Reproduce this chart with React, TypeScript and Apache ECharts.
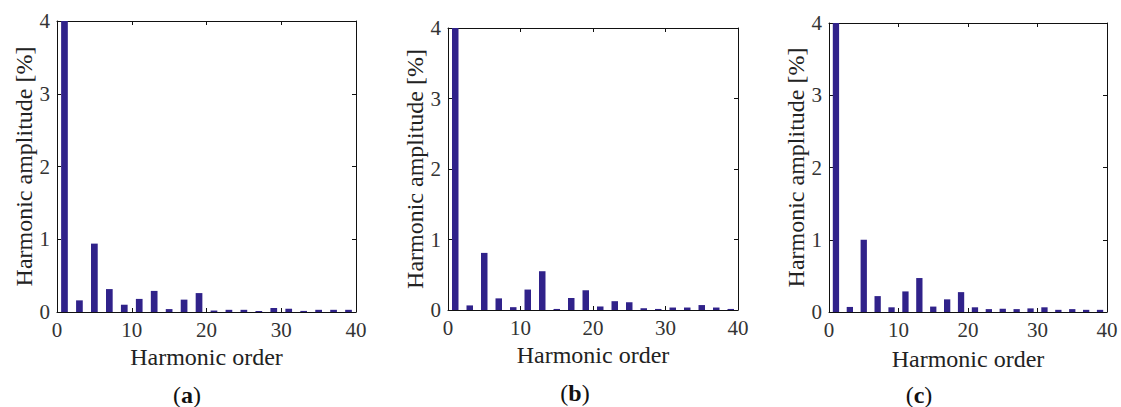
import React, { useEffect, useRef } from "react";
import * as echarts from "echarts";

const harmonics = [1, 3, 5, 7, 9, 11, 13, 15, 17, 19, 21, 23, 25, 27, 29, 31, 33, 35, 37, 39];
const ampA = [4, 0.16, 0.94, 0.315, 0.1, 0.18, 0.29, 0.04, 0.17, 0.26, 0.02, 0.03, 0.03, 0.015, 0.055, 0.045, 0.015, 0.03, 0.03, 0.03];
const ampB = [4, 0.065, 0.81, 0.165, 0.04, 0.29, 0.55, 0.015, 0.17, 0.28, 0.05, 0.125, 0.11, 0.025, 0.015, 0.035, 0.035, 0.07, 0.035, 0.015];
const ampC = [4, 0.07, 1.0, 0.22, 0.065, 0.285, 0.47, 0.075, 0.175, 0.275, 0.065, 0.04, 0.045, 0.04, 0.05, 0.065, 0.03, 0.04, 0.03, 0.03];
const xTicks = [0, 10, 20, 30, 40];
const yTicks = [0, 1, 2, 3, 4];
const xName = "Harmonic order";
const yName = "Harmonic amplitude [%]";
const captions = ["a", "b", "c"];

const FONT = "Liberation Serif";
const BAR = "#30228a";

const panels = [
  { grid: { left: 57, top: 21, width: 299, height: 291 }, data: ampA, barWidth: 6.7, xGap: 33, yGap: 19, cap: { x: 187, y: 395 } },
  { grid: { left: 448, top: 28, width: 290, height: 282 }, data: ampB, barWidth: 6.5, xGap: 32, yGap: 17, cap: { x: 575, y: 393 } },
  { grid: { left: 829, top: 23, width: 278, height: 289 }, data: ampC, barWidth: 6.3, xGap: 35, yGap: 17, cap: { x: 919, y: 395 } },
];

export default function App() {
  const ref = useRef<HTMLDivElement>(null);
  useEffect(() => {
    if (!ref.current) return;
    const chart = echarts.init(ref.current, undefined, { renderer: "svg" });
    const line = { show: true, onZero: false, lineStyle: { color: "#111", width: 1 } };
    const tick = { show: true, inside: true, length: 4, lineStyle: { color: "#111", width: 1 } };
    const grids: any[] = [];
    const xAxes: any[] = [];
    const yAxes: any[] = [];
    const series: any[] = [];
    const graphics: any[] = [];
    panels.forEach((p, i) => {
      grids.push({ ...p.grid, containLabel: false });
      xAxes.push({
        type: "value", gridIndex: i, position: "bottom", min: xTicks[0], max: xTicks[xTicks.length - 1], interval: 10,
        axisLine: line, axisTick: tick, splitLine: { show: false },
        axisLabel: { fontFamily: FONT, fontSize: 21, color: "#333", margin: 7 },
        name: xName, nameLocation: "middle", nameGap: p.xGap,
        nameTextStyle: { fontFamily: FONT, fontSize: 24, color: "#222" },
      });
      xAxes.push({
        type: "value", gridIndex: i, position: "top", min: 0, max: 40, interval: 10,
        axisLine: line, axisTick: tick, splitLine: { show: false }, axisLabel: { show: false },
      });
      yAxes.push({
        type: "value", gridIndex: i, position: "left", min: yTicks[0], max: yTicks[yTicks.length - 1], interval: 1,
        axisLine: line, axisTick: tick, splitLine: { show: false },
        axisLabel: { fontFamily: FONT, fontSize: 21, color: "#333", margin: 7 },
        name: yName, nameLocation: "middle", nameGap: p.yGap, nameRotate: 90,
        nameTextStyle: { fontFamily: FONT, fontSize: 24, color: "#222", verticalAlign: "bottom" },
      });
      yAxes.push({
        type: "value", gridIndex: i, position: "right", min: 0, max: 4, interval: 1,
        axisLine: line, axisTick: tick, splitLine: { show: false }, axisLabel: { show: false },
      });
      series.push({
        type: "bar", xAxisIndex: i * 2, yAxisIndex: i * 2,
        data: harmonics.map((h, k) => [h, p.data[k]]),
        barWidth: p.barWidth, itemStyle: { color: BAR }, clip: true,
      });
      graphics.push({
        type: "text", x: p.cap.x, y: p.cap.y,
        style: {
          text: `{n|(}{b|${captions[i]}}{n|)}`, align: "center", verticalAlign: "middle",
          rich: {
            n: { fontFamily: FONT, fontSize: 24, fill: "#111" },
            b: { fontFamily: FONT, fontSize: 24, fontWeight: "bold", fill: "#111" },
          },
        },
      });
    });
    chart.setOption({
      animation: false,
      backgroundColor: "#fff",
      grid: grids,
      xAxis: xAxes,
      yAxis: yAxes,
      series,
      graphic: graphics,
    });
    return () => chart.dispose();
  }, []);
  return <div ref={ref} style={{ position: "fixed", left: 0, top: 0, width: 1121, height: 407 }} />;
}
